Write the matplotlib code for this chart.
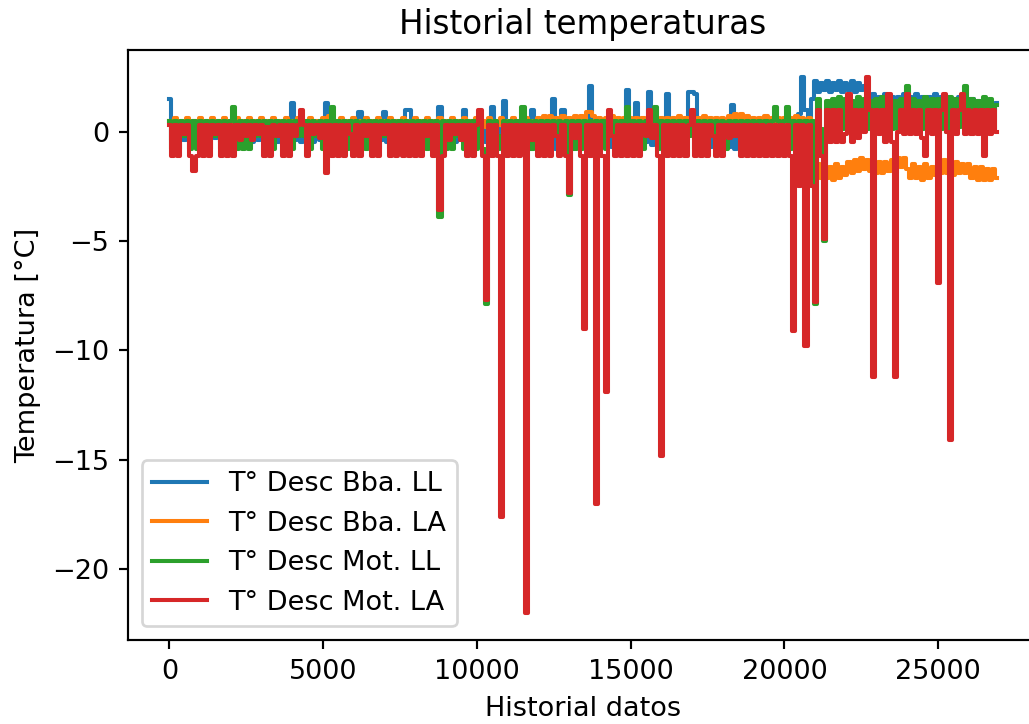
import numpy as np
import matplotlib
matplotlib.use("Agg")
import matplotlib.pyplot as plt

# sample index (every 100th record of the history)
x_idx = np.arange(0, 27000, 100)

# values in tenths of a degree
bba_ll = [
    15,-4,1,-5,1,-4,2,-5,1,-4,
    1,-5,1,-4,2,-3,1,-5,1,-4,
    2,-5,1,-4,1,-6,1,-5,2,-4,
    1,-5,1,-4,1,-5,2,-6,1,-4,
    13,-4,1,-5,1,-4,2,-5,1,-4,
    1,13,-4,1,-5,1,-4,2,-5,1,
    -4,1,9,-5,1,-4,1,-5,2,-4,
    9,-5,1,-4,1,-5,2,10,10,-4,
    1,-5,1,-4,2,-5,1,-4,11,-5,
    1,-4,2,-5,1,-4,10,-5,1,-4,
    1,-6,2,-5,1,11,-4,1,-5,14,
    -4,1,-6,2,-5,1,-7,-8,10,-7,
    1,-8,2,-7,1,15,-8,1,10,-7,
    1,-8,2,-6,1,-7,1,21,-5,1,
    -6,2,-5,1,-7,1,-5,2,-6,19,
    -5,1,13,-6,1,-5,18,-6,1,-5,
    2,-6,17,-5,1,-6,2,-5,1,18,
    18,17,-5,1,-6,2,-7,1,-8,2,
    -8,1,-7,12,-8,1,-9,2,-8,1,
    -9,2,-8,1,-9,1,-8,2,-7,1,
    -8,3,-6,5,-4,8,25,10,2,15,
    23,18,22,19,23,18,22,19,23,18,
    22,19,23,18,22,19,21,17,13,17,
    13,16,12,17,13,16,12,16,13,17,
    12,16,13,17,12,16,13,16,12,17,
    13,16,12,16,13,15,12,16,12,15,
    11,15,12,14,11,15,10,14,10,13,
]
bba_la = [
    5,2,6,2,5,3,6,2,5,2,
    6,3,5,2,6,2,5,3,6,2,
    5,2,6,3,5,2,6,2,5,3,
    6,2,5,2,6,3,5,2,6,2,
    5,3,6,2,5,2,6,3,5,2,
    6,2,7,3,5,2,6,2,5,3,
    6,2,5,2,6,3,5,2,6,2,
    5,3,6,2,5,2,6,3,5,2,
    6,2,5,3,6,2,5,2,6,3,
    5,2,6,2,5,3,6,2,5,2,
    6,3,5,2,6,2,5,3,6,2,
    5,2,6,3,5,2,6,2,5,3,
    6,2,7,3,7,3,6,2,7,3,
    6,2,7,3,7,4,9,9,7,3,
    6,2,6,3,7,3,6,2,6,3,
    6,2,6,3,6,2,6,3,6,2,
    6,3,6,2,6,3,7,3,6,2,
    6,3,6,2,7,3,6,2,6,3,
    6,3,7,4,8,4,8,4,7,3,
    6,3,6,2,7,3,6,3,6,2,
    6,3,6,2,7,3,6,3,6,3,
    2,-15,-21,-16,-21,-16,-22,-15,-21,-16,
    -20,-14,-19,-13,-18,-12,-17,-13,-18,-13,
    -19,-14,-19,-14,-18,-13,-19,-12,-16,-12,
    -17,-21,-15,-21,-16,-22,-15,-21,-16,-20,
    -14,-19,-13,-19,-15,-20,-14,-19,-15,-19,
    -15,-21,-16,-22,-16,-22,-17,-22,-17,-21,
]
mot_ll = [
    5,-8,5,-8,5,-2,5,-8,5,-8,
    5,-8,5,-8,5,-2,5,-8,5,-8,
    5,11,-8,5,-8,5,-8,5,-2,5,
    -2,5,-8,5,-8,5,-2,5,-8,5,
    -8,5,-2,5,-2,5,-8,5,-2,5,
    -8,5,-8,11,-8,5,-8,5,-8,5,
    -8,5,-2,5,-8,5,-8,5,-8,5,
    -2,5,-8,5,-8,5,-8,5,-8,5,
    -8,5,-2,5,-8,5,-8,5,-39,5,
    -8,5,-8,5,-2,5,-8,5,-8,5,
    -8,5,-8,-79,5,-8,5,-8,-2,5,
    -8,5,-8,5,-8,11,-2,5,-8,5,
    -8,5,-8,5,-8,5,-2,5,-8,5,
    -29,5,-8,5,-8,5,-8,5,-8,5,
    -8,5,-8,5,-2,5,-8,5,-8,11,
    -2,5,-8,5,-8,5,-2,5,11,-8,
    5,-8,5,-8,5,-8,5,-8,5,-2,
    5,-8,5,-8,5,-8,5,-2,5,-8,
    5,-8,5,-2,5,-2,5,-8,5,-8,
    5,-8,5,-8,5,-8,5,11,5,-8,
    5,11,-8,5,-8,5,-2,5,-8,5,
    -79,15,1,-50,14,1,15,2,16,1,
    15,0,14,1,16,2,15,1,14,0,
    15,1,16,2,15,1,14,1,15,0,
    21,1,15,2,14,1,16,1,15,2,
    15,1,14,0,16,1,15,2,14,21,
    1,15,2,14,1,16,0,15,1,12,
]
mot_la = [
    3,-11,3,-11,3,-1,3,-11,-18,-11,
    3,-11,3,-11,3,-1,3,-11,3,-11,
    3,-11,3,-4,3,-2,3,-4,3,-1,
    3,-11,2,-11,3,-2,3,-11,3,-11,
    3,-2,3,10,3,-11,3,-1,3,-3,
    3,-19,3,-11,3,-11,3,-11,3,-1,
    -11,3,-11,3,-2,3,-11,3,-11,3,
    -1,3,-11,3,-11,3,-11,3,-11,3,
    -11,3,-11,3,-2,3,-11,3,-36,-11,
    3,-4,3,-1,3,-4,3,-11,3,-11,
    3,10,-11,-77,3,-11,3,-11,-176,3,
    -11,3,-11,3,-11,3,-220,3,-4,3,
    -11,3,-11,3,-11,3,-2,-11,3,-11,
    -28,3,-3,3,-11,-90,3,-11,3,-170,
    3,-11,-119,10,-2,-11,3,-11,3,-11,
    3,-11,3,-11,3,-2,10,-3,3,-11,
    -148,3,-11,3,-11,3,-11,3,-11,3,
    10,-11,3,-11,3,-11,3,-2,-11,3,
    -11,3,-3,3,-2,3,-11,3,-11,3,
    -11,3,-11,3,-11,3,-11,3,-11,3,
    -11,3,-11,-91,3,-25,3,-98,3,-25,
    -78,10,-11,-49,10,-5,10,-5,10,-5,
    -1,17,-5,10,-3,10,0,25,10,-112,
    10,-1,10,-5,17,-5,-112,0,10,-1,
    17,-1,10,-1,10,-3,-11,10,-1,10,
    -69,10,17,0,-141,10,-1,10,17,-1,
    10,-1,10,-1,10,-11,10,-1,10,0,
]

series_labels = ["T° Desc Bba. LL", "T° Desc Bba. LA", "T° Desc Mot. LL", "T° Desc Mot. LA"]
series_values = [bba_ll, bba_la, mot_ll, mot_la]

DPI = 195
fig = plt.figure(figsize=(1029 / DPI, 724 / DPI), dpi=DPI)
ax = fig.add_axes([128 / 1029, 84 / 724, 910 / 1029, 590 / 724])
for lab, vals in zip(series_labels, series_values):
    ax.plot(x_idx, np.array(vals) / 10.0, label=lab, linewidth=1.5,
            drawstyle="steps-mid")

ax.set_title("Historial temperaturas")
ax.set_xlabel("Historial datos")
ax.set_ylabel("Temperatura [°C]")
ax.legend(loc="lower left")
fig.savefig("out.png", dpi=DPI)
